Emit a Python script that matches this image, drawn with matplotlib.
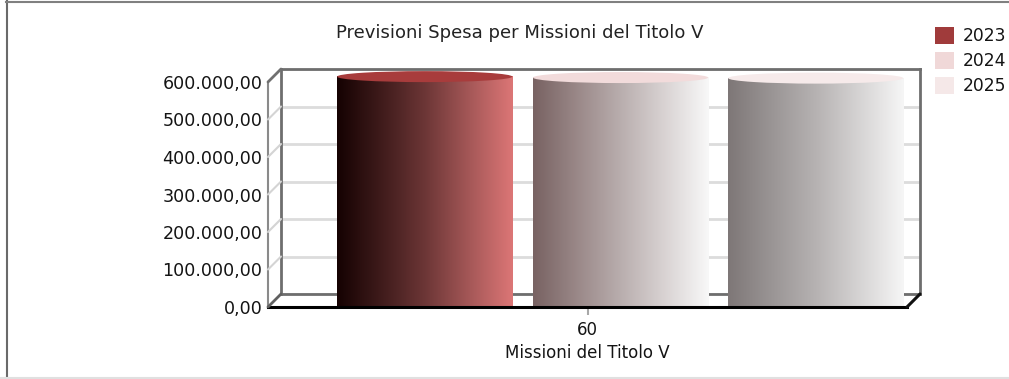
import matplotlib
matplotlib.use('Agg')
import matplotlib.pyplot as plt
import numpy as np
from matplotlib.colors import LinearSegmentedColormap
from matplotlib.patches import Polygon, Ellipse, Patch, ConnectionPatch
from matplotlib.lines import Line2D
from matplotlib.ticker import FuncFormatter

# dati
categories = ['60']
years = ['2023', '2024', '2025']
spesa_2023 = [597000]
spesa_2024 = [594500]
spesa_2025 = [593000]
y_ticks = [0, 100000, 200000, 300000, 400000, 500000, 600000]
y_max = 600000

series = [spesa_2023, spesa_2024, spesa_2025]
legend_colors = ['#a03b3b', '#f0d8d8', '#f5e8e8']
top_colors = ['#a83c3c', '#f2dbdb', '#f6eaea']
body_cmaps = [
    LinearSegmentedColormap.from_list('c23', ['#150202', '#3f1b1b', '#6c3636', '#a45757', '#dc7676']),
    LinearSegmentedColormap.from_list('c24', ['#786262', '#9a8888', '#b9aeae', '#d9d3d3', '#f8f8f8']),
    LinearSegmentedColormap.from_list('c25', ['#7e7777', '#9a9595', '#b6b2b2', '#d6d4d4', '#f6f6f6']),
]

W, H = 1009, 379
fig = plt.figure(figsize=(W / 100, H / 100), dpi=100)
fig.patch.set_facecolor('white')

# piani del box 3d (in pixel)
x_front, y_front = 268, 307
plane_w, plane_h = 639, 225
depth = 13
margin = 20


def plane_axes(shift, extra=0):
    return fig.add_axes([(x_front + shift) / W, (H - y_front + shift - extra) / H,
                         plane_w / W, (plane_h + 2 * extra) / H])


ax_back = plane_axes(depth)
ax_mid = plane_axes(depth / 2, margin)
ax_front = plane_axes(0)

m_data = margin / plane_h * y_max
for ax in (ax_back, ax_front):
    ax.set_xlim(-0.5, 0.5)
    ax.set_ylim(0, y_max)

# parete di fondo
ax_back.set_facecolor('white')
ax_back.set_yticks(y_ticks)
ax_back.set_xticks([])
ax_back.yaxis.grid(True, color='#dcdcdc', lw=2)
ax_back.tick_params(length=0, labelleft=False)
for s in ax_back.spines.values():
    s.set_color('#6e6e6e')
    s.set_linewidth(2)

# parete sinistra e pavimento
for t in y_ticks[1:-1]:
    fig.add_artist(ConnectionPatch(xyA=(-0.5, t), coordsA=ax_front.transData,
                                   xyB=(-0.5, t), coordsB=ax_back.transData,
                                   color='#d4d4d4', lw=1.5))
for (xa, ya), col, lw in [((-0.5, y_max), '#707070', 2), ((-0.5, 0), '#606060', 2),
                          ((0.5, 0), '#111111', 2.2)]:
    fig.add_artist(ConnectionPatch(xyA=(xa, ya), coordsA=ax_front.transData,
                                   xyB=(xa, ya), coordsB=ax_back.transData,
                                   color=col, lw=lw))

# cilindri (il fondo resta nascosto dal bordo del pavimento)
ax_mid.axis('off')
group_offsets = [-0.265, 0.0415, 0.347]
bar_w = 0.274
ry = 5.5 / plane_h * y_max
grad = np.linspace(0, 1, 256).reshape(1, -1)
for i, vals in enumerate(series):
    c = group_offsets[i]
    v = vals[0]
    x0, x1 = c - bar_w / 2, c + bar_w / 2
    ax_mid.imshow(grad, cmap=body_cmaps[i], extent=[x0, x1, -ry, v],
                  aspect='auto', origin='lower', interpolation='bilinear', zorder=2)
    ax_mid.add_patch(Ellipse((c, v), bar_w, 2 * ry, facecolor=top_colors[i],
                             edgecolor='none', zorder=3))
ax_mid.set_xlim(-0.5, 0.5)
ax_mid.set_ylim(-m_data, y_max + m_data)

# piano frontale: assi ed etichette
ax_front.patch.set_alpha(0)
for k in ('top', 'right'):
    ax_front.spines[k].set_visible(False)
ax_front.spines['left'].set_color('#8a8a8a')
ax_front.spines['left'].set_linewidth(1.5)
ax_front.spines['bottom'].set_color('#000000')
ax_front.spines['bottom'].set_linewidth(2.2)


def it_fmt(v, pos):
    return f'{v:,.2f}'.replace(',', 'X').replace('.', ',').replace('X', '.')


ax_front.set_yticks(y_ticks)
ax_front.yaxis.set_major_formatter(FuncFormatter(it_fmt))
ax_front.tick_params(axis='y', length=0, pad=4, labelsize=12.6, labelcolor='#141414')
ax_front.set_xticks([0])
ax_front.set_xticklabels(categories)
ax_front.tick_params(axis='x', length=6, width=1.5, color='#a8a8a8', pad=4,
                     labelsize=12, labelcolor='#141414')
ax_front.set_xlabel('Missioni del Titolo V', fontsize=12, color='#141414', labelpad=4)

fig.text(520 / W, 1 - 33 / H, 'Previsioni Spesa per Missioni del Titolo V',
         ha='center', va='center', fontsize=13, color='#222222')

handles = [Patch(facecolor=col, edgecolor='none') for col in legend_colors]
fig.legend(handles, years, loc='upper left', bbox_to_anchor=(935 / W, 1 - 27 / H),
           frameon=False, fontsize=12.3, handlelength=1.12, handleheight=1.12,
           handletextpad=0.5, labelspacing=0.4, borderpad=0, borderaxespad=0,
           labelcolor='#141414')

# cornice
fig.add_artist(Line2D([6.5 / W, 6.5 / W], [0, 1 - 1 / H], color='#6a6a6a', lw=1.5))
fig.add_artist(Line2D([6 / W, 1], [1 - 2 / H, 1 - 2 / H], color='#808080', lw=1.5))
fig.add_artist(Line2D([0, 1], [1.2 / H, 1.2 / H], color='#e0e0e0', lw=1.5))

fig.savefig('out.png', dpi=100)
